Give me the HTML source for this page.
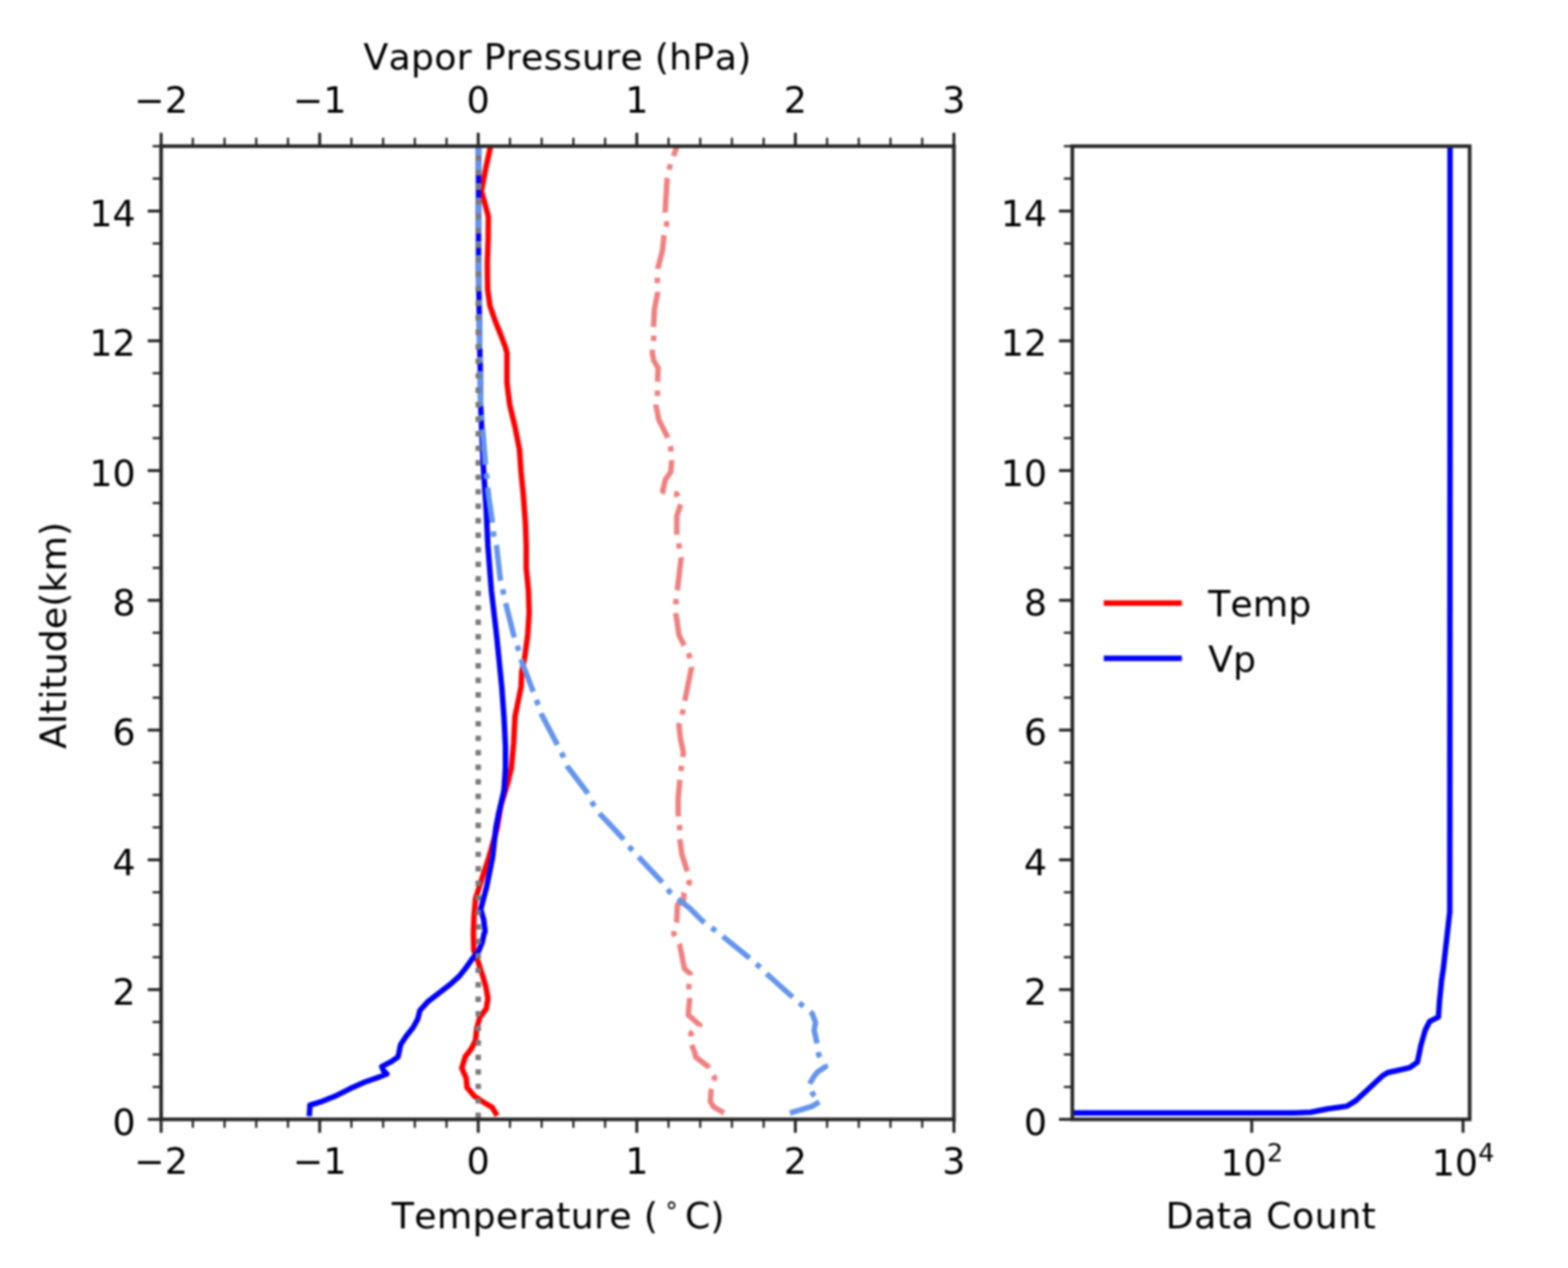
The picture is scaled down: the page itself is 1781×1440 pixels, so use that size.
<!DOCTYPE html>
<html><head><meta charset="utf-8"><title>Altitude profile</title>
<style>html,body{margin:0;padding:0;background:#fff;}body{width:1781px;height:1440px;overflow:hidden;}svg{display:block;filter:blur(0.8px);}text{font-kerning:none;}</style>
</head><body>
<svg width="1781" height="1440" viewBox="0 0 1781 1440">
<defs><clipPath id="cl"><rect x="183.0" y="166.0" width="900.5" height="1105.2"/></clipPath>
<clipPath id="cr"><rect x="1218.0" y="166.0" width="451.3" height="1105.2"/></clipPath></defs>
<rect width="1781" height="1440" fill="#fff"/>
<g clip-path="url(#cl)" fill="none" stroke-linejoin="round">
<path d="M557.5 160.0 L557.0 167.0 L552.0 190.0 L546.8 217.0 L551.0 232.0 L554.7 246.0 L554.5 270.0 L553.5 300.0 L553.9 328.6 L556.4 347.0 L562.3 364.0 L569.0 380.8 L574.0 394.0 L575.8 401.0 L575.8 434.7 L579.0 460.0 L585.0 485.0 L590.0 510.5 L591.8 535.8 L594.3 561.0 L596.8 594.7 L597.7 620.0 L597.7 645.0 L600.2 670.5 L601.0 695.8 L599.4 721.0 L596.0 746.3 L592.6 763.2 L591.8 780.0 L585.0 813.7 L583.4 844.0 L580.8 872.6 L576.6 889.5 L569.0 914.7 L564.8 940.0 L555.3 973.7 L544.3 1007.4 L540.1 1020.8 L538.4 1041.0 L537.7 1060.0 L538.2 1079.4 L543.0 1092.0 L548.4 1108.6 L551.8 1120.3 L554.2 1133.9 L552.3 1145.6 L545.0 1155.3 L541.6 1167.0 L540.1 1181.5 L535.3 1191.2 L528.5 1200.0 L524.5 1212.9 L529.6 1224.6 L530.4 1234.7 L538.9 1244.9 L549.0 1251.6 L559.0 1257.5 L563.0 1264.2" stroke="#ff0000" stroke-width="6.2" stroke-linecap="square"/>
<path d="M771.0 160.0 L769.0 166.0 L760.7 189.5 L757.8 202.5 L755.4 241.4 L757.2 254.4 L754.2 267.4 L752.5 284.0 L747.1 305.1 L746.6 318.5 L746.8 333.7 L743.4 350.5 L742.5 367.0 L742.5 384.0 L740.9 401.0 L742.5 409.5 L747.6 418.0 L746.8 434.7 L746.8 446.5 L745.0 460.0 L748.4 476.8 L757.7 495.4 L762.0 509.7 L762.8 524.0 L762.0 535.8 L756.0 544.2 L752.6 557.7 L768.7 561.0 L773.7 571.0 L768.7 586.3 L768.7 605.0 L771.0 618.0 L773.7 633.5 L769.5 668.8 L767.8 683.0 L767.8 697.5 L771.2 721.0 L776.2 731.2 L783.0 744.6 L785.5 758.0 L781.0 780.0 L778.0 795.0 L775.4 808.6 L771.2 823.8 L772.9 839.0 L776.2 854.0 L773.7 872.6 L772.0 887.8 L770.3 906.3 L770.3 923.2 L772.0 940.0 L772.0 951.8 L774.5 970.3 L780.4 988.8 L783.0 1002.3 L777.0 1014.0 L776.2 1024.0 L769.5 1027.6 L768.6 1046.1 L765.3 1060.4 L772.0 1073.0 L777.4 1100.0 L784.0 1105.8 L782.5 1120.4 L783.2 1135.0 L781.8 1152.6 L794.9 1164.2 L784.7 1173.7 L785.1 1185.1 L789.1 1195.2 L790.1 1200.2 L804.3 1211.3 L811.8 1224.0 L807.8 1237.6 L806.8 1250.7 L810.3 1256.8 L822.4 1263.9" stroke="#f08080" stroke-width="6.2" stroke-dasharray="18.25 9.90 6.20 9.90 39.32 9.90 6.20 9.90 39.22 9.90 6.20 9.90 40.17 9.90 6.20 9.90 37.96 9.90 6.20 9.90 40.49 9.90 6.20 9.90 40.83 9.90 6.20 9.90 35.21 9.90 6.20 9.90 37.75 9.90 6.20 9.90 38.43 9.90 6.20 9.90 39.23 9.90 6.20 9.90 39.19 9.90 6.20 9.90 41.66 9.90 6.20 9.90 37.63 9.90 6.20 9.90 37.98 9.90 6.20 9.90 39.27 9.90 6.20 9.90 37.71 9.90 6.20 9.90 34.25 9.90 6.20 9.90 35.27 10000.00" stroke-linecap="butt"/>
<path d="M543.5 160.0 L543.5 300.0 L545.0 400.0 L545.5 418.0 L546.0 460.0 L548.8 527.0 L552.2 578.0 L554.2 620.0 L558.1 670.5 L564.0 721.0 L569.9 780.0 L572.4 813.7 L574.1 847.4 L574.1 872.6 L572.4 898.0 L566.5 923.2 L563.2 940.0 L559.5 973.7 L552.7 1007.4 L546.0 1032.6 L549.4 1044.4 L551.0 1058.0 L549.9 1060.0 L547.9 1069.7 L544.0 1079.4 L536.2 1089.2 L529.4 1098.9 L521.7 1108.6 L511.0 1118.3 L498.3 1128.0 L485.7 1137.8 L476.9 1147.5 L474.5 1157.2 L469.2 1166.9 L461.4 1176.7 L455.0 1186.4 L452.2 1200.2 L443.7 1206.1 L433.6 1211.2 L435.3 1215.4 L439.5 1219.6 L431.1 1223.0 L414.2 1228.9 L397.4 1236.4 L380.5 1244.9 L363.7 1251.6 L352.0 1255.0 L351.5 1264.5" stroke="#0000ff" stroke-width="6.2" stroke-linecap="square"/>
<path d="M543.5 160.0 L544.0 300.0 L545.0 400.0 L546.0 460.0 L548.8 493.7 L551.4 527.4 L554.7 561.0 L559.0 591.0 L560.6 606.5 L564.0 620.0 L568.2 657.0 L571.6 672.2 L575.0 687.4 L583.4 721.0 L588.4 736.2 L592.6 751.4 L603.6 780.0 L610.3 797.7 L615.4 812.0 L632.2 844.0 L639.0 857.5 L644.9 871.0 L666.7 899.6 L673.5 913.0 L681.9 924.9 L696.3 940.0 L707.2 951.8 L716.4 963.6 L725.7 973.7 L751.0 1000.6 L760.2 1012.4 L772.0 1022.5 L783.0 1031.0 L798.1 1046.1 L810.7 1055.4 L822.5 1064.6 L849.5 1086.5 L861.3 1096.6 L872.3 1107.3 L898.5 1130.7 L910.2 1140.9 L922.6 1151.1 L926.3 1161.3 L924.8 1170.0 L927.6 1183.0 L930.1 1198.2 L937.7 1211.3 L928.6 1217.4 L924.5 1222.5 L918.5 1232.6 L923.5 1242.7 L931.6 1250.8 L921.5 1256.8 L897.2 1263.9" stroke="#6495ed" stroke-width="6.2" stroke-dasharray="38.40 9.90 6.20 9.90 39.60 9.90 6.20 9.90 40.80 9.90 6.20 9.90 38.80 9.90 6.20 9.90 39.96 9.90 6.20 9.90 40.53 9.90 6.20 9.90 40.19 9.90 6.20 9.90 40.73 9.90 6.20 9.90 40.21 9.90 6.20 9.90 39.34 9.90 6.20 9.90 40.44 9.90 6.20 9.90 39.72 9.90 6.20 9.90 40.46 9.90 6.20 9.90 39.62 9.90 6.20 9.90 40.45 9.90 6.20 9.90 39.26 9.90 6.20 9.90 40.00 9.90 6.20 9.90 38.03 9.90 6.20 9.90 29.62 9.90 6.20 9.90 35.97 10000.00" stroke-linecap="butt"/>
<path d="M543.2 1269.8 L543.2 160" stroke="#7a7a7a" stroke-width="6.2" stroke-dasharray="6.2 10.27"/>
</g>
<g clip-path="url(#cr)" fill="none" stroke-linejoin="round">
<path d="M1647.0 160.0 L1647.0 480.0 L1646.7 1035.4 L1639.4 1100.0 L1637.5 1112.5 L1635.0 1137.5 L1633.8 1155.0 L1623.8 1160.0 L1618.8 1170.0 L1613.8 1187.5 L1610.0 1206.2 L1601.2 1212.5 L1576.2 1218.1 L1570.0 1221.9 L1540.0 1250.0 L1530.0 1256.2 L1507.5 1259.4 L1488.8 1263.1 L1470.0 1263.8 L1200.0 1263.8" stroke="#0000ff" stroke-width="6.2" stroke-linecap="square"/>
</g>
<rect x="183.00" y="166.00" width="900.50" height="1105.20" fill="none" stroke="#2a2a2a" stroke-width="4.2" stroke-linejoin="miter"/>
<rect x="1218.00" y="166.00" width="451.30" height="1105.20" fill="none" stroke="#2a2a2a" stroke-width="4.2" stroke-linejoin="miter"/>
<g stroke="#222" fill="none"><path d="M183.00 1271.20V1286.40" stroke-width="3.3"/><path d="M183.00 166.00V150.80" stroke-width="3.3"/><path d="M219.02 1271.20V1280.80" stroke-width="2.5"/><path d="M219.02 166.00V156.40" stroke-width="2.5"/><path d="M255.04 1271.20V1280.80" stroke-width="2.5"/><path d="M255.04 166.00V156.40" stroke-width="2.5"/><path d="M291.06 1271.20V1280.80" stroke-width="2.5"/><path d="M291.06 166.00V156.40" stroke-width="2.5"/><path d="M327.08 1271.20V1280.80" stroke-width="2.5"/><path d="M327.08 166.00V156.40" stroke-width="2.5"/><path d="M363.10 1271.20V1286.40" stroke-width="3.3"/><path d="M363.10 166.00V150.80" stroke-width="3.3"/><path d="M399.12 1271.20V1280.80" stroke-width="2.5"/><path d="M399.12 166.00V156.40" stroke-width="2.5"/><path d="M435.14 1271.20V1280.80" stroke-width="2.5"/><path d="M435.14 166.00V156.40" stroke-width="2.5"/><path d="M471.16 1271.20V1280.80" stroke-width="2.5"/><path d="M471.16 166.00V156.40" stroke-width="2.5"/><path d="M507.18 1271.20V1280.80" stroke-width="2.5"/><path d="M507.18 166.00V156.40" stroke-width="2.5"/><path d="M543.20 1271.20V1286.40" stroke-width="3.3"/><path d="M543.20 166.00V150.80" stroke-width="3.3"/><path d="M579.22 1271.20V1280.80" stroke-width="2.5"/><path d="M579.22 166.00V156.40" stroke-width="2.5"/><path d="M615.24 1271.20V1280.80" stroke-width="2.5"/><path d="M615.24 166.00V156.40" stroke-width="2.5"/><path d="M651.26 1271.20V1280.80" stroke-width="2.5"/><path d="M651.26 166.00V156.40" stroke-width="2.5"/><path d="M687.28 1271.20V1280.80" stroke-width="2.5"/><path d="M687.28 166.00V156.40" stroke-width="2.5"/><path d="M723.30 1271.20V1286.40" stroke-width="3.3"/><path d="M723.30 166.00V150.80" stroke-width="3.3"/><path d="M759.32 1271.20V1280.80" stroke-width="2.5"/><path d="M759.32 166.00V156.40" stroke-width="2.5"/><path d="M795.34 1271.20V1280.80" stroke-width="2.5"/><path d="M795.34 166.00V156.40" stroke-width="2.5"/><path d="M831.36 1271.20V1280.80" stroke-width="2.5"/><path d="M831.36 166.00V156.40" stroke-width="2.5"/><path d="M867.38 1271.20V1280.80" stroke-width="2.5"/><path d="M867.38 166.00V156.40" stroke-width="2.5"/><path d="M903.40 1271.20V1286.40" stroke-width="3.3"/><path d="M903.40 166.00V150.80" stroke-width="3.3"/><path d="M939.42 1271.20V1280.80" stroke-width="2.5"/><path d="M939.42 166.00V156.40" stroke-width="2.5"/><path d="M975.44 1271.20V1280.80" stroke-width="2.5"/><path d="M975.44 166.00V156.40" stroke-width="2.5"/><path d="M1011.46 1271.20V1280.80" stroke-width="2.5"/><path d="M1011.46 166.00V156.40" stroke-width="2.5"/><path d="M1047.48 1271.20V1280.80" stroke-width="2.5"/><path d="M1047.48 166.00V156.40" stroke-width="2.5"/><path d="M1083.50 1271.20V1286.40" stroke-width="3.3"/><path d="M1083.50 166.00V150.80" stroke-width="3.3"/><path d="M183.00 1271.20H167.80" stroke-width="3.3"/><path d="M1218.00 1271.20H1202.80" stroke-width="3.3"/><path d="M183.00 1234.36H173.40" stroke-width="2.5"/><path d="M1218.00 1234.36H1208.40" stroke-width="2.5"/><path d="M183.00 1197.52H173.40" stroke-width="2.5"/><path d="M1218.00 1197.52H1208.40" stroke-width="2.5"/><path d="M183.00 1160.68H173.40" stroke-width="2.5"/><path d="M1218.00 1160.68H1208.40" stroke-width="2.5"/><path d="M183.00 1123.84H167.80" stroke-width="3.3"/><path d="M1218.00 1123.84H1202.80" stroke-width="3.3"/><path d="M183.00 1087.00H173.40" stroke-width="2.5"/><path d="M1218.00 1087.00H1208.40" stroke-width="2.5"/><path d="M183.00 1050.16H173.40" stroke-width="2.5"/><path d="M1218.00 1050.16H1208.40" stroke-width="2.5"/><path d="M183.00 1013.32H173.40" stroke-width="2.5"/><path d="M1218.00 1013.32H1208.40" stroke-width="2.5"/><path d="M183.00 976.48H167.80" stroke-width="3.3"/><path d="M1218.00 976.48H1202.80" stroke-width="3.3"/><path d="M183.00 939.64H173.40" stroke-width="2.5"/><path d="M1218.00 939.64H1208.40" stroke-width="2.5"/><path d="M183.00 902.80H173.40" stroke-width="2.5"/><path d="M1218.00 902.80H1208.40" stroke-width="2.5"/><path d="M183.00 865.96H173.40" stroke-width="2.5"/><path d="M1218.00 865.96H1208.40" stroke-width="2.5"/><path d="M183.00 829.12H167.80" stroke-width="3.3"/><path d="M1218.00 829.12H1202.80" stroke-width="3.3"/><path d="M183.00 792.28H173.40" stroke-width="2.5"/><path d="M1218.00 792.28H1208.40" stroke-width="2.5"/><path d="M183.00 755.44H173.40" stroke-width="2.5"/><path d="M1218.00 755.44H1208.40" stroke-width="2.5"/><path d="M183.00 718.60H173.40" stroke-width="2.5"/><path d="M1218.00 718.60H1208.40" stroke-width="2.5"/><path d="M183.00 681.76H167.80" stroke-width="3.3"/><path d="M1218.00 681.76H1202.80" stroke-width="3.3"/><path d="M183.00 644.92H173.40" stroke-width="2.5"/><path d="M1218.00 644.92H1208.40" stroke-width="2.5"/><path d="M183.00 608.08H173.40" stroke-width="2.5"/><path d="M1218.00 608.08H1208.40" stroke-width="2.5"/><path d="M183.00 571.24H173.40" stroke-width="2.5"/><path d="M1218.00 571.24H1208.40" stroke-width="2.5"/><path d="M183.00 534.40H167.80" stroke-width="3.3"/><path d="M1218.00 534.40H1202.80" stroke-width="3.3"/><path d="M183.00 497.56H173.40" stroke-width="2.5"/><path d="M1218.00 497.56H1208.40" stroke-width="2.5"/><path d="M183.00 460.72H173.40" stroke-width="2.5"/><path d="M1218.00 460.72H1208.40" stroke-width="2.5"/><path d="M183.00 423.88H173.40" stroke-width="2.5"/><path d="M1218.00 423.88H1208.40" stroke-width="2.5"/><path d="M183.00 387.04H167.80" stroke-width="3.3"/><path d="M1218.00 387.04H1202.80" stroke-width="3.3"/><path d="M183.00 350.20H173.40" stroke-width="2.5"/><path d="M1218.00 350.20H1208.40" stroke-width="2.5"/><path d="M183.00 313.36H173.40" stroke-width="2.5"/><path d="M1218.00 313.36H1208.40" stroke-width="2.5"/><path d="M183.00 276.52H173.40" stroke-width="2.5"/><path d="M1218.00 276.52H1208.40" stroke-width="2.5"/><path d="M183.00 239.68H167.80" stroke-width="3.3"/><path d="M1218.00 239.68H1202.80" stroke-width="3.3"/><path d="M183.00 202.84H173.40" stroke-width="2.5"/><path d="M1218.00 202.84H1208.40" stroke-width="2.5"/><path d="M183.00 166.00H173.40" stroke-width="2.5"/><path d="M1218.00 166.00H1208.40" stroke-width="2.5"/><path d="M1421.80 1271.20V1286.40" stroke-width="3.3"/><path d="M1661.80 1271.20V1286.40" stroke-width="3.3"/></g>
<g font-family="DejaVu Sans, sans-serif" font-size="41.3" fill="#000">
<text x="183.0" y="127.8" text-anchor="middle">−2</text>
<text x="183.0" y="1332.8" text-anchor="middle">−2</text>
<text x="363.1" y="127.8" text-anchor="middle">−1</text>
<text x="363.1" y="1332.8" text-anchor="middle">−1</text>
<text x="543.2" y="127.8" text-anchor="middle">0</text>
<text x="543.2" y="1332.8" text-anchor="middle">0</text>
<text x="723.3" y="127.8" text-anchor="middle">1</text>
<text x="723.3" y="1332.8" text-anchor="middle">1</text>
<text x="903.4" y="127.8" text-anchor="middle">2</text>
<text x="903.4" y="1332.8" text-anchor="middle">2</text>
<text x="1083.5" y="127.8" text-anchor="middle">3</text>
<text x="1083.5" y="1332.8" text-anchor="middle">3</text>
<text x="154.0" y="1288.5" text-anchor="end">0</text>
<text x="1189.2" y="1288.5" text-anchor="end">0</text>
<text x="154.0" y="1141.1" text-anchor="end">2</text>
<text x="1189.2" y="1141.1" text-anchor="end">2</text>
<text x="154.0" y="993.8" text-anchor="end">4</text>
<text x="1189.2" y="993.8" text-anchor="end">4</text>
<text x="154.0" y="846.4" text-anchor="end">6</text>
<text x="1189.2" y="846.4" text-anchor="end">6</text>
<text x="154.0" y="699.1" text-anchor="end">8</text>
<text x="1189.2" y="699.1" text-anchor="end">8</text>
<text x="154.0" y="551.7" text-anchor="end">10</text>
<text x="1189.2" y="551.7" text-anchor="end">10</text>
<text x="154.0" y="404.3" text-anchor="end">12</text>
<text x="1189.2" y="404.3" text-anchor="end">12</text>
<text x="154.0" y="257.0" text-anchor="end">14</text>
<text x="1189.2" y="257.0" text-anchor="end">14</text>
<text x="633.2" y="79.0" text-anchor="middle" letter-spacing="0.25">Vapor Pressure (hPa)</text>
<text x="445.0" y="1395.0" text-anchor="start" letter-spacing="0.30">Temperature (</text>
<text x="754.0" y="1378.0" text-anchor="start" font-size="28.9">∘</text>
<text x="778.0" y="1395.0" text-anchor="start">C)</text>
<text x="1443.6" y="1395.0" text-anchor="middle" letter-spacing="0.5">Data Count</text>
<text x="1421.8" y="1335.2" text-anchor="middle">10<tspan font-size="28.9" dy="-16">2</tspan></text>
<text x="1661.8" y="1335.2" text-anchor="middle">10<tspan font-size="28.9" dy="-16">4</tspan></text>
<text transform="translate(74.5 721.6) rotate(-90)" text-anchor="middle">Altitude(km)</text>
</g>
<path d="M1256.8 684.8H1339.3" stroke="#ff0000" stroke-width="6.2" stroke-linecap="square"/>
<path d="M1256.8 747.7H1339.3" stroke="#0000ff" stroke-width="6.2" stroke-linecap="square"/>
<g font-family="DejaVu Sans, sans-serif" font-size="41.3" fill="#000">
<text x="1372.3" y="699.5" text-anchor="start">Temp</text>
<text x="1372.3" y="762.5" text-anchor="start">Vp</text>
</g>
</svg>
</body></html>
